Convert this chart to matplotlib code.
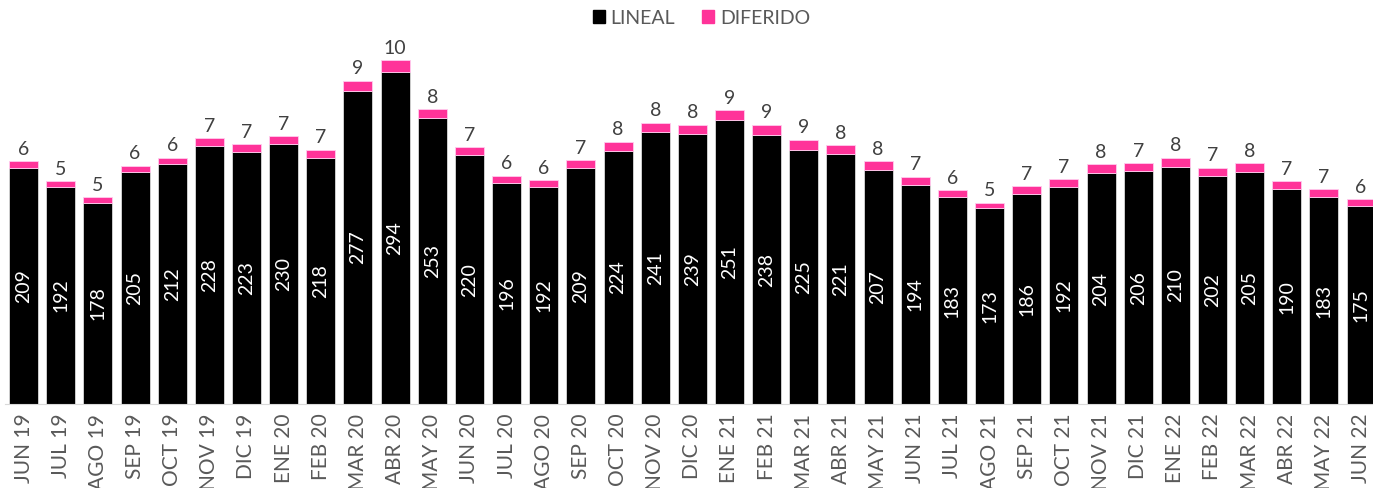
import matplotlib.pyplot as plt
from matplotlib.patches import Patch

meses = ["JUN 19", "JUL 19", "AGO 19", "SEP 19", "OCT 19", "NOV 19", "DIC 19",
         "ENE 20", "FEB 20", "MAR 20", "ABR 20", "MAY 20", "JUN 20", "JUL 20",
         "AGO 20", "SEP 20", "OCT 20", "NOV 20", "DIC 20", "ENE 21", "FEB 21",
         "MAR 21", "ABR 21", "MAY 21", "JUN 21", "JUL 21", "AGO 21", "SEP 21",
         "OCT 21", "NOV 21", "DIC 21", "ENE 22", "FEB 22", "MAR 22", "ABR 22",
         "MAY 22", "JUN 22"]
lineal = [209, 192, 178, 205, 212, 228, 223, 230, 218, 277, 294, 253, 220, 196,
          192, 209, 224, 241, 239, 251, 238, 225, 221, 207, 194, 183, 173, 186,
          192, 204, 206, 210, 202, 205, 190, 183, 175]
diferido = [6, 5, 5, 6, 6, 7, 7, 7, 7, 9, 10, 8, 7, 6, 6, 7, 8, 8, 8, 9, 9, 9,
            8, 8, 7, 6, 5, 7, 7, 8, 7, 8, 7, 8, 7, 7, 6]

negro = "#000000"
rosa = "#FF3399"
gris = "#595959"
plt.rcParams['font.family'] = ['Lato', 'DejaVu Sans']

fig = plt.figure(figsize=(13.73, 4.88), dpi=100)
ax = fig.add_axes([5 / 1373, 1 - 404 / 488, 1368 / 1373, 404 / 488])

x = range(len(meses))
ax.bar(x, lineal, width=0.78, color=negro, edgecolor="#d9d9d9", linewidth=0.6)
ax.bar(x, diferido, width=0.78, bottom=lineal, color=rosa, edgecolor="#ffccee", linewidth=0.6)

for i, (l, d) in enumerate(zip(lineal, diferido)):
    ax.text(i, l / 2, str(l), rotation=90, ha="center", va="center",
            color="white", fontsize=14)
    ax.text(i, l + d + 3, str(d), ha="center", va="bottom", color="#404040",
            fontsize=14)

ax.set_xlim(-0.5, 36.32)
ax.set_ylim(0, 357.5)
ax.set_xticks(list(x))
ax.set_xticklabels(meses, rotation=90, color=gris, fontsize=15)
ax.tick_params(axis="x", length=0, pad=7)
ax.set_yticks([])
for s in ["top", "right", "left"]:
    ax.spines[s].set_visible(False)
ax.spines["bottom"].set_color("#d9d9d9")

handles = [Patch(color=negro, label="LINEAL"), Patch(color=rosa, label="DIFERIDO")]
fig.legend(handles=handles, loc="center", bbox_to_anchor=(0.5 + 15 / 1373, 1 - 18 / 488),
           ncol=2, frameon=False, fontsize=14, labelcolor=gris, handlelength=0.6,
           handleheight=0.6, handletextpad=0.3, columnspacing=1.4)

fig.savefig("out.png", dpi=100)
